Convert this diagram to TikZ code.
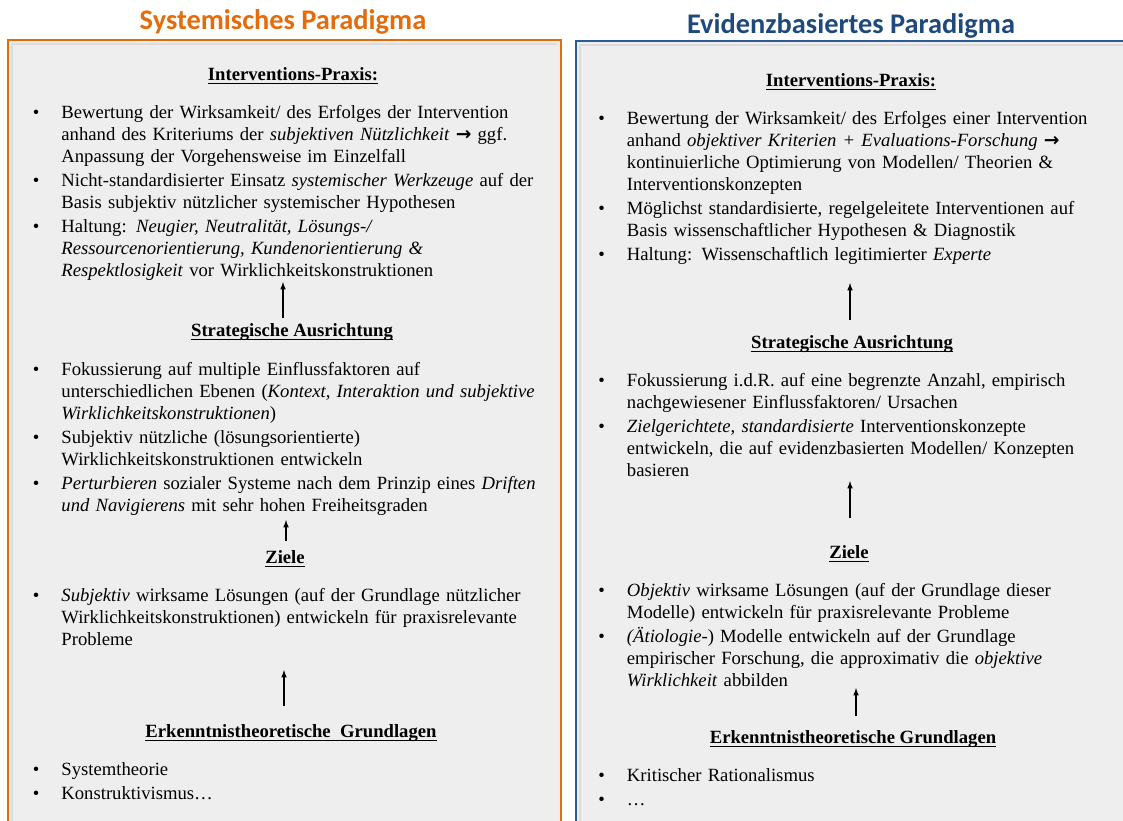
\documentclass[tikz,border=0pt]{standalone}
\usepackage{fontspec}
\setmainfont{Liberation Serif}
\newfontfamily\titlefont{Carlito}
\newfontfamily\symfont{DejaVu Sans}
\usepackage{tikz}
\usetikzlibrary{positioning,arrows}

\definecolor{sysorange}{HTML}{E46C0A}
\definecolor{evblue}{HTML}{2E5A94}
\definecolor{evtitle}{HTML}{1F497D}
\definecolor{panelgray}{HTML}{EEEEEE}
\definecolor{shadowgray}{HTML}{DCDCDC}

% one bullet point, wrapped lines indented under the text
\newcommand{\bitem}[1]{\par{\leftskip=21.5pt\noindent\llap{\makebox[21.5pt][l]{\textbullet}}\strut#1\par}}
\newcommand{\nl}{\newline}
\newcommand{\toarrow}{{\symfont\bfseries →}}
\newcommand{\uhead}[1]{\setbox0\hbox{#1}\rlap{\rule[-2.4pt]{\wd0}{0.75pt}}\box0}

\begin{document}
\begin{tikzpicture}
            [x=0.75pt,y=-0.75pt,
             paneltitle/.style={font=\titlefont\bfseries\fontsize{21.3}{24}\selectfont, anchor=base, inner sep=0pt},
             heading/.style={font=\bfseries\fontsize{14}{16.5}\selectfont, anchor=base, inner sep=0pt},
             itemlist/.style={font=\fontsize{14}{16.5}\selectfont, anchor=north west, inner sep=0pt, text width=400pt,
                              execute at begin node={\setlength{\parskip}{1.5pt}}}]
          \useasboundingbox (0,0) rectangle (1123,820);
          \clip (0,0) rectangle (1123,820);

          % panels
          \draw[sysorange, line width=2.2pt, fill=panelgray] (8,40) rectangle (561,840);
          \draw[shadowgray, line width=2pt] (12,850) -- (12,44) -- (557,44);
          \draw[evblue, line width=2.2pt, fill=panelgray] (576,41) rectangle (1140,840);
          \draw[shadowgray, line width=2pt] (580,850) -- (580,45) -- (1140,45);

          \node[paneltitle, text=sysorange] (systitle) at (283,30) {Systemisches Paradigma};
          \node[paneltitle, text=evtitle] (evtitle) at (851,34) {Evidenzbasiertes Paradigma};

          % left: systemisch
          \node[heading] (sysh1) at (293,80.5) {\uhead{Interventions-Praxis:}};
          \node[itemlist] (sysl1) at (32.5,94.6) {%
            \bitem{Bewertung der Wirksamkeit/ des Erfolges der Intervention\nl anhand des Kriteriums der \textit{subjektiven Nützlichkeit} \toarrow{} ggf.\nl Anpassung der Vorgehensweise im Einzelfall}
            \bitem{Nicht-standardisierter Einsatz \textit{systemischer Werkzeuge} auf der\nl Basis subjektiv nützlicher systemischer Hypothesen}
            \bitem{Haltung: \textit{Neugier, Neutralität, Lösungs-/\nl Ressourcenorientierung, Kundenorientierung \&\nl Respektlosigkeit} vor Wirklichkeitskonstruktionen}};

          \node[heading] (sysh2) at (292,336.5) {\uhead{Strategische Ausrichtung}};
          \node[itemlist] (sysl2) at (32.5,351.6) {%
            \bitem{Fokussierung auf multiple Einflussfaktoren auf\nl unterschiedlichen Ebenen (\textit{Kontext, Interaktion und subjektive\nl Wirklichkeitskonstruktionen})}
            \bitem{Subjektiv nützliche (lösungsorientierte)\nl Wirklichkeitskonstruktionen entwickeln}
            \bitem{\textit{Perturbieren} sozialer Systeme nach dem Prinzip eines \textit{Driften\nl und Navigierens} mit sehr hohen Freiheitsgraden}};

          \node[heading] (sysh3) at (285,563.5) {\uhead{Ziele}};
          \node[itemlist] (sysl3) at (32.5,577.6) {%
            \bitem{\textit{Subjektiv} wirksame Lösungen (auf der Grundlage nützlicher\nl Wirklichkeitskonstruktionen) entwickeln für praxisrelevante\nl Probleme}};

          \node[heading] (sysh4) at (291,737.5) {\uhead{Erkenntnistheoretische\ \ Grundlagen}};
          \node[itemlist] (sysl4) at (32.5,751.6) {%
            \bitem{Systemtheorie}
            \bitem{Konstruktivismus…}};

          % right: evidenzbasiert
          \node[heading] (evh1) at (851,86.5) {\uhead{Interventions-Praxis:}};
          \node[itemlist] (evl1) at (598,100.6) {%
            \bitem{Bewertung der Wirksamkeit/ des Erfolges einer Intervention\nl anhand \textit{objektiver Kriterien + Evaluations-Forschung} \toarrow\nl kontinuierliche Optimierung von Modellen/ Theorien \&\nl Interventionskonzepten}
            \bitem{Möglichst standardisierte, regelgeleitete Interventionen auf\nl Basis wissenschaftlicher Hypothesen \& Diagnostik}
            \bitem{Haltung: Wissenschaftlich legitimierter \textit{Experte}}};

          \node[heading] (evh2) at (852,348.5) {\uhead{Strategische Ausrichtung}};
          \node[itemlist] (evl2) at (598,362.6) {%
            \bitem{Fokussierung i.d.R. auf eine begrenzte Anzahl, empirisch\nl nachgewiesener Einflussfaktoren/ Ursachen}
            \bitem{\textit{Zielgerichtete, standardisierte} Interventionskonzepte\nl entwickeln, die auf evidenzbasierten Modellen/ Konzepten\nl basieren}};

          \node[heading] (evh3) at (849,558.5) {\uhead{Ziele}};
          \node[itemlist] (evl3) at (598,572.6) {%
            \bitem{\textit{Objektiv} wirksame Lösungen (auf der Grundlage dieser\nl Modelle) entwickeln für praxisrelevante Probleme}
            \bitem{\textit{(Ätiologie-}) Modelle entwickeln auf der Grundlage\nl empirischer Forschung, die approximativ die \textit{objektive\nl Wirklichkeit} abbilden}};

          \node[heading] (evh4) at (853,743.5) {\uhead{Erkenntnistheoretische Grundlagen}};
          \node[itemlist] (evl4) at (598,757.6) {%
            \bitem{Kritischer Rationalismus}
            \bitem{…}};

          % arrow ends
          \coordinate (sysa1) at (283,318);  \coordinate (sysb1) at (283,282);
          \coordinate (sysa2) at (286,541);  \coordinate (sysb2) at (286,520);
          \coordinate (sysa3) at (284,706);  \coordinate (sysb3) at (284,670);
          \coordinate (eva1) at (850,320);   \coordinate (evb1) at (850,283);
          \coordinate (eva2) at (850,518);   \coordinate (evb2) at (850,481);
          \coordinate (eva3) at (856,716);   \coordinate (evb3) at (856,688);

          \foreach \from/\to in {sysa1/sysb1, sysa2/sysb2, sysa3/sysb3, eva1/evb1, eva2/evb2, eva3/evb3}
            \draw[line width=0.9pt] (\from) edge[-latex] (\to);
        \end{tikzpicture}
\end{document}
